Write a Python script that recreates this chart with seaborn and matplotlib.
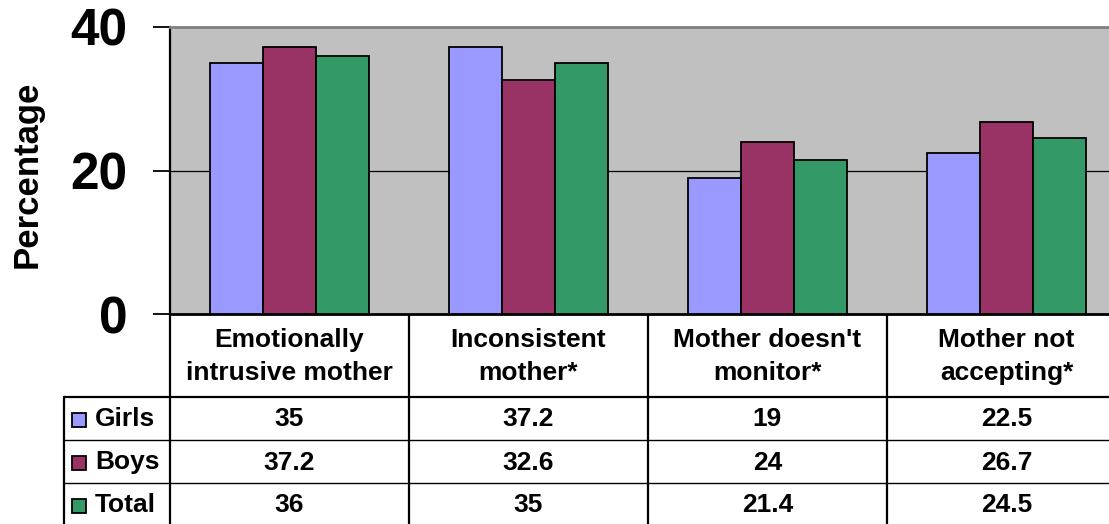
import matplotlib
matplotlib.use("Agg")
import matplotlib.pyplot as plt
import seaborn as sns
import pandas as pd
from matplotlib.transforms import blended_transform_factory
from matplotlib.patches import Rectangle
from matplotlib.lines import Line2D

# Data
categories = ["Emotionally\nintrusive mother", "Inconsistent\nmother*",
              "Mother doesn't\nmonitor*", "Mother not\naccepting*"]
groups = ["Girls", "Boys", "Total"]
girls = [35, 37.2, 19, 22.5]
boys = [37.2, 32.6, 24, 26.7]
total = [36, 35, 21.4, 24.5]
y_ticks = [0, 20, 40]
y_label = "Percentage"

colors = ["#9999FF", "#993366", "#339966"]

sns.set_theme(style="white")
plt.rcParams["font.family"] = ["Liberation Sans", "DejaVu Sans"]
plt.rcParams["font.weight"] = "bold"
plt.rcParams["text.color"] = "black"
plt.rcParams["axes.labelcolor"] = "black"
plt.rcParams["ytick.color"] = "black"
plt.rcParams["ytick.labelcolor"] = "black"

W, H = 1109, 524
fig = plt.figure(figsize=(W / 100, H / 100), dpi=100)

# Pixel-space layer used for the data table below the bars
over = fig.add_axes([0, 0, 1, 1], zorder=0)
over.set_xlim(0, W)
over.set_ylim(H, 0)
over.axis("off")

left, right, top, base = 170, 1126, 27, 314
ax = fig.add_axes([left / W, 1 - base / H, (right - left) / W, (base - top) / H], zorder=1)

df = pd.DataFrame({
    "category": categories * 3,
    "group": [g for g in groups for _ in categories],
    "value": girls + boys + total,
})

sns.barplot(data=df, x="category", y="value", hue="group", order=categories,
            hue_order=groups, palette=colors, saturation=1, width=0.665,
            edgecolor="black", linewidth=1.3, errorbar=None, legend=False,
            ax=ax, zorder=3)

ax.set_facecolor("#C0C0C0")
ax.set_xlim(-0.5, 3.5)
ax.set_ylim(0, 40)
ax.set_yticks(y_ticks)
ax.set_yticklabels([str(t) for t in y_ticks])
ax.axhline(20, color="black", lw=0.9, zorder=1)
ax.set_xticks(range(len(categories)))
ax.set_xticklabels([])
ax.tick_params(axis="x", length=0, bottom=False)
ax.tick_params(axis="y", left=True, length=12.5, width=1.3, pad=18,
               labelsize=37, direction="out", color="black", labelcolor="black")
for lab in ax.get_yticklabels():
    lab.set_fontweight("bold")
ax.set_xlabel("")
ax.set_ylabel(y_label, fontsize=25, fontweight="bold", va="center", color="black")
ax.yaxis.set_label_coords(-0.149, 0.488)

for side in ("left", "bottom"):
    ax.spines[side].set_color("black")
    ax.spines[side].set_linewidth(1.6)
ax.spines["bottom"].set_linewidth(2)
ax.spines["top"].set_color("#808080")
ax.spines["top"].set_linewidth(2)
ax.spines["right"].set_visible(False)

# Data table
tr = blended_transform_factory(ax.transData, over.transData)
row_edges = [314, 397, 440, 483, 526]
tbl_left = 64
n = len(categories)

for i in range(n + 1):
    over.add_line(Line2D([i - 0.5, i - 0.5], [row_edges[0], row_edges[-1]],
                         transform=tr, color="black", lw=1.6, clip_on=False))
over.add_line(Line2D([tbl_left, tbl_left], [row_edges[1], row_edges[-1]],
                     color="black", lw=1.6, clip_on=False))
for k, y in enumerate(row_edges[1:]):
    over.add_line(Line2D([tbl_left, right], [y, y], color="black",
                         lw=1.6 if k == 0 else 1.0, clip_on=False))

for i, cat in enumerate(categories):
    over.text(i, (row_edges[0] + row_edges[1]) / 2 + 1, cat, transform=tr,
              ha="center", va="center", multialignment="center",
              fontsize=19, fontweight="bold", linespacing=1.45, color="black")

series = [girls, boys, total]
for r, (name, vals, col) in enumerate(zip(groups, series, colors)):
    yc = (row_edges[r + 1] + row_edges[r + 2]) / 2 + 1
    over.add_patch(Rectangle((72, yc - 7), 14, 14, facecolor=col,
                             edgecolor="black", lw=1.3, clip_on=False))
    over.text(95, yc, name, ha="left", va="center", fontsize=19,
              fontweight="bold", color="black")
    for i, v in enumerate(vals):
        over.text(i, yc, f"{v:g}", transform=tr, ha="center", va="center",
                  fontsize=19, fontweight="bold", color="black")

fig.savefig("out.png", dpi=100)
